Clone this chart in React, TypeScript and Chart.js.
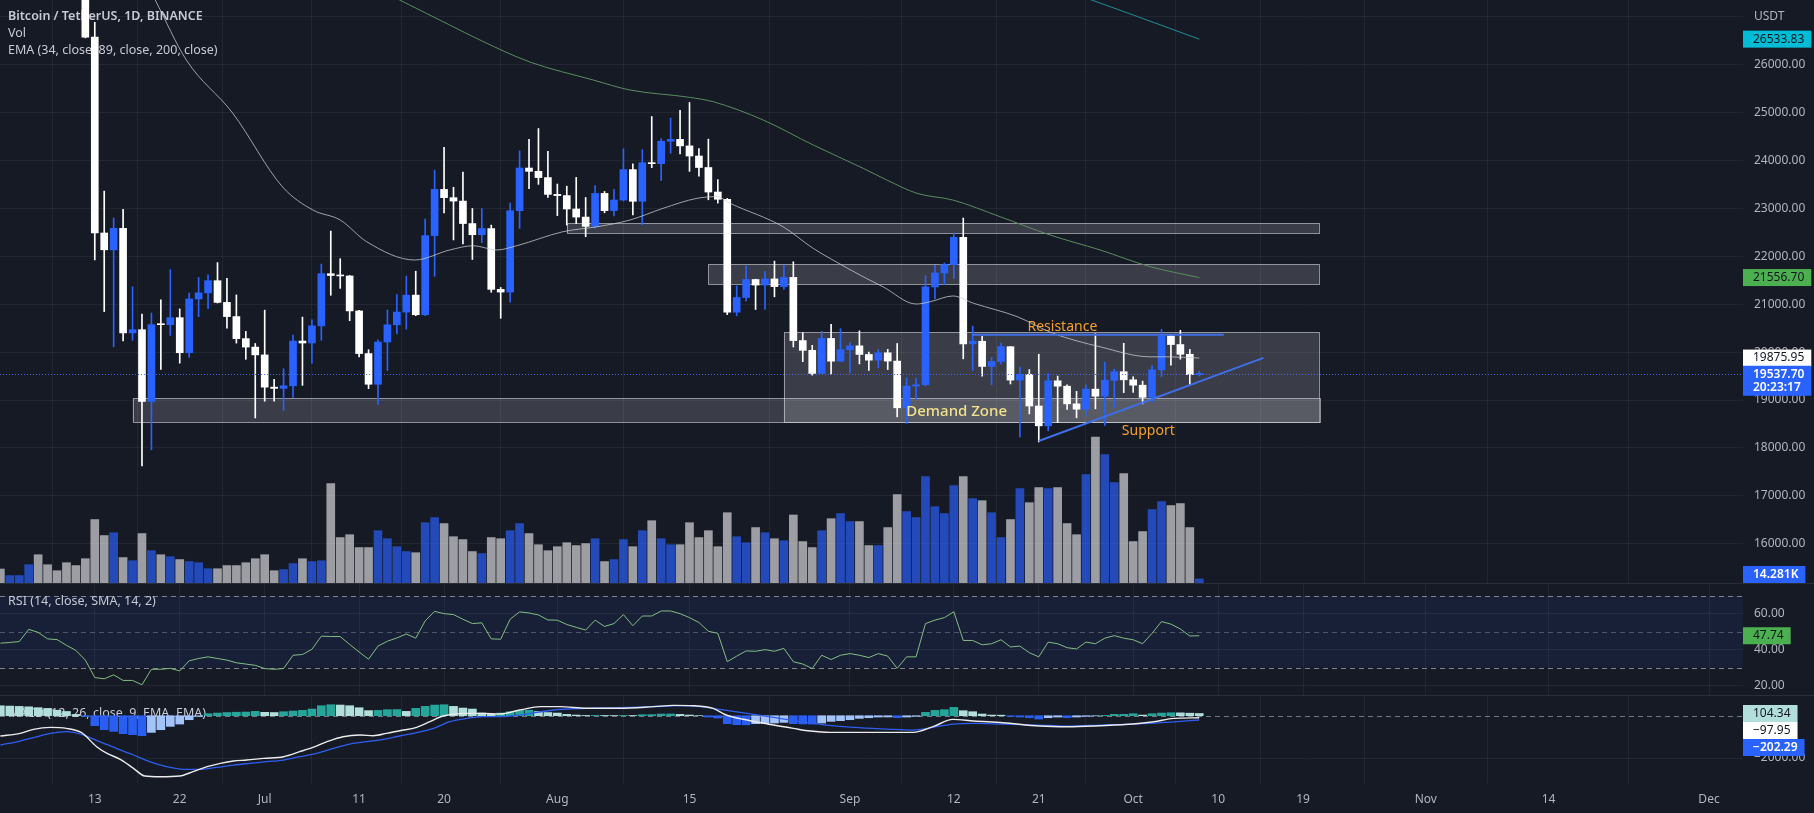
import React, { useEffect, useRef } from "react";
import { Chart, registerables } from "chart.js";

Chart.register(...registerables);

// ---------------- data (day index 0 = 13 Jun 2022) ----------------
const FIRST_DAY = -10; // 3 Jun 2022

const openPrices = [
  30468, 29700, 29865, 29920, 31373, 31126, 30205, 30110, 29092, 28424,
  26575, 22487, 22136, 22584, 20401, 20468, 18970, 20574, 20573, 20719,
  19987, 21110, 21237, 21491, 21038, 20742, 20281, 20105, 19942, 19269,
  19243, 19297, 20231, 20190, 20548, 21637, 21600, 21590, 20860, 19970,
  19329, 20212, 20570, 20836, 21190, 20780, 22432, 23397, 23224, 23153,
  22684, 22451, 22579, 21310, 21254, 22952, 23843, 23774, 23644, 23293,
  23268, 22988, 22819, 22625, 23313, 22954, 23175, 23810, 23149, 23954,
  23934, 24403, 24441, 24305, 24094, 23854, 23342, 23191, 20834, 21140,
  21516, 21400, 21528, 21368, 21560, 20241, 20037, 19555, 20285, 19811,
  20050, 20131, 19951, 19832, 19986, 19813, 18838, 19291, 19320, 21361,
  21652, 21826, 22396, 20173, 20227, 19701, 19803, 20113, 19416, 19537,
  18875, 18461, 19401, 19289, 18920, 18808, 19227, 19079, 19412, 19591,
  19422, 19310, 19056, 19629, 20337, 20158, 19955, 19531,
];
const highPrices = [
  30690, 29944, 30152, 31765, 31556, 31328, 30700, 30386, 29440, 28544,
  26886, 23362, 22800, 22983, 21365, 20792, 20815, 21090, 21723, 20902,
  21233, 21558, 21614, 21868, 21540, 21194, 20432, 20180, 20876, 19430,
  19653, 20354, 20731, 20675, 21838, 22527, 21950, 21600, 20875, 20050,
  20259, 20880, 21200, 21588, 21689, 22777, 23800, 24276, 23442, 23757,
  22998, 22996, 22651, 21350, 23111, 24199, 24442, 24668, 24194, 23509,
  23465, 23647, 23228, 23475, 23354, 23400, 24245, 23933, 24226, 24918,
  24456, 24888, 25047, 25212, 24247, 24446, 23600, 23208, 21382, 21800,
  21522, 21684, 21900, 21819, 21886, 20406, 20141, 20433, 20580, 20490,
  20198, 20444, 19999, 20055, 20057, 20180, 19464, 19458, 21597, 21810,
  21860, 22488, 22799, 20541, 20330, 19888, 20189, 20117, 19686, 19634,
  19956, 19550, 19500, 19316, 19180, 19315, 20385, 19790, 19645, 20185,
  19486, 19395, 19719, 20475, 20365, 20456, 20057, 19600,
];
const lowPrices = [
  29351, 29485, 29531, 29890, 29219, 29844, 29950, 28850, 28100, 26560,
  21925, 20846, 20111, 20232, 20246, 17622, 17960, 19637, 20348, 19770,
  19891, 20740, 20906, 21026, 20499, 20188, 19850, 18626, 18975, 18978,
  18781, 19055, 19305, 19770, 20245, 21187, 21330, 20655, 19900, 19238,
  18910, 19616, 20379, 20480, 20760, 20762, 21581, 22906, 22342, 22257,
  21934, 22284, 21250, 20706, 21042, 22582, 23414, 23502, 23227, 22850,
  22654, 22681, 22409, 22586, 22909, 22844, 23154, 22865, 22664, 23852,
  23583, 24150, 24140, 23773, 23671, 23180, 23111, 20783, 20761, 21069,
  20890, 20890, 21154, 21310, 20107, 19800, 19520, 19550, 19540, 19800,
  19565, 19754, 19617, 19673, 19636, 18649, 18510, 19012, 19291, 21111,
  21405, 21538, 19860, 19617, 19497, 19320, 19748, 19335, 18232, 18711,
  18125, 18356, 18531, 18805, 18629, 18680, 18816, 18471, 18843, 19155,
  19160, 18920, 18960, 19490, 19730, 19853, 19320, 19500,
];
const closePrices = [
  29700, 29865, 29920, 31373, 31126, 30205, 30110, 29092, 28424, 26575,
  22487, 22136, 22584, 20401, 20468, 18970, 20574, 20573, 20719, 19987,
  21110, 21237, 21491, 21038, 20742, 20281, 20105, 19942, 19269, 19243,
  19297, 20231, 20190, 20548, 21637, 21600, 21590, 20860, 19970, 19329,
  20212, 20570, 20836, 21190, 20780, 22432, 23397, 23224, 23153, 22684,
  22451, 22579, 21310, 21254, 22952, 23843, 23774, 23644, 23293, 23268,
  22988, 22819, 22625, 23313, 22954, 23175, 23810, 23149, 23954, 23934,
  24403, 24441, 24305, 24094, 23854, 23342, 23191, 20834, 21140, 21516,
  21400, 21528, 21368, 21560, 20241, 20037, 19555, 20285, 19811, 20050,
  20131, 19951, 19832, 19986, 19813, 18838, 19291, 19320, 21361, 21652,
  21826, 22396, 20173, 20227, 19701, 19803, 20113, 19416, 19537, 18875,
  18461, 19401, 19289, 18920, 18808, 19227, 19079, 19412, 19591, 19422,
  19310, 19056, 19629, 20337, 20158, 19955, 19531, 19537.7,
];
// volume in thousands of BTC
const volumeK = [
  49, 26, 26, 64, 99, 64, 43, 71, 61, 85,
  222, 166, 176, 89, 78, 173, 113, 99, 92, 82,
  75, 71, 50, 50, 61, 61, 71, 85, 99, 43,
  47, 68, 85, 75, 78, 348, 159, 169, 124, 124,
  183, 155, 127, 110, 106, 211, 229, 208, 162, 152,
  110, 103, 159, 155, 183, 208, 173, 134, 113, 127,
  141, 131, 138, 155, 75, 82, 152, 127, 183, 218,
  155, 134, 134, 211, 159, 183, 127, 246, 162, 141,
  194, 176, 155, 148, 238, 145, 124, 183, 225, 243,
  215, 215, 131, 131, 194, 309, 250, 229, 372, 267,
  243, 341, 372, 295, 288, 246, 159, 222, 330, 281,
  334, 330, 334, 208, 169, 379, 511, 449, 351, 383,
  145, 180, 257, 285, 271, 278, 194, 14.281,
];
const rsiValues = [
  43.6, 44.0, 44.5, 51.3, 49.6, 46.0, 45.6, 42.4, 39.6, 34.2,
  24.5, 23.8, 26.0, 22.9, 22.9, 20.5, 29.1, 29.1, 29.6, 28.2,
  33.8, 35.1, 36.0, 35.1, 34.2, 32.7, 32.0, 31.3, 29.5, 29.1,
  29.5, 36.9, 37.3, 40.2, 47.5, 47.3, 47.3, 42.9, 38.7, 34.7,
  42.0, 44.7, 46.5, 48.7, 46.4, 56.0, 61.3, 60.0, 59.5, 56.9,
  54.5, 54.9, 46.0, 45.8, 56.9, 61.0, 60.4, 59.3, 56.5, 56.4,
  54.0, 52.4, 50.9, 56.4, 52.9, 54.5, 59.5, 53.3, 58.7, 58.7,
  61.5, 61.5, 60.0, 57.8, 55.1, 50.2, 49.1, 33.3, 36.4, 39.3,
  39.1, 40.0, 39.1, 40.7, 33.3, 32.0, 29.5, 36.9, 34.5, 36.9,
  37.8, 36.9, 35.6, 37.8, 36.4, 29.6, 36.0, 36.0, 54.5, 56.4,
  57.8, 61.1, 45.1, 45.1, 42.7, 43.3, 45.5, 41.5, 42.0, 38.3,
  36.0, 44.2, 43.3, 41.1, 40.4, 44.2, 43.3, 46.4, 47.8, 46.4,
  45.5, 43.3, 49.1, 55.6, 54.2, 51.5, 47.6, 47.74,
];
const macdHist = [
  470, 455, 440, 420, 380, 345, 260, 200, 60, -40,
  -473, -662, -741, -850, -898, -945, -788, -662, -504, -394,
  -189, -31, 94, 126, 150, 165, 173, 205, 160, 150,
  189, 221, 252, 315, 473, 520, 505, 473, 378, 240,
  252, 284, 290, 205, 347, 441, 504, 520, 441, 362,
  315, 126, 63, 126, 189, 252, 260, 200, 150, 126,
  63, 31, 12, 15, 10, 8, 14, 10, 47, 50,
  79, 82, 63, 31, 3, -63, -110, -378, -425, -430,
  -378, -370, -347, -315, -378, -390, -395, -347, -268, -236,
  -189, -126, -95, -63, -60, -95, -63, -31, 158, 252,
  284, 394, 236, 189, 79, 31, 25, -31, -63, -95,
  -158, -95, -63, -95, -63, -31, -8, 15, 63, 65,
  94, 31, 94, 126, 140, 135, 120, 104.34,
];
const macdLine = [
  [-10, -960], [-7.9, -835], [-6.5, -646], [-4.7, -552], [-3, -599], [-1.4, -804],
  [0.2, -1466], [1.3, -1781], [2.7, -2064], [4.1, -2490], [5.3, -2852], [6.9, -2884],
  [9, -2852], [10.4, -2647], [11.9, -2411], [13.3, -2253], [14.7, -2143], [16.1, -2096],
  [17.9, -2017], [20, -1938], [21.7, -1702], [23.1, -1497], [24.6, -1229], [26.3, -993],
  [28.1, -914], [29.5, -946], [30.9, -835], [32.3, -709], [34.1, -552], [35.5, -284],
  [36.9, -16], [39.4, 110], [41.2, 110], [42.9, 79], [45, 268], [47.2, 427], [49.3, 427],
  [52.1, 349], [55.6, 349], [59.2, 427], [61.3, 490], [63.4, 474], [65.5, 349], [66.9, 32],
  [69.1, -205], [71.9, -441], [74, -599], [75.8, -725], [77.9, -788], [80.4, -788],
  [83.9, -788], [86.7, -788], [88.8, -520], [90.9, -173], [93.1, -252], [96.2, -331],
  [100.1, -488], [103, -520], [106.5, -473], [110, -394], [112.2, -284], [114.3, -126],
  [117, -97.95],
];
const signalLine = [
  [-10, -1386], [-7.9, -1197], [-6.5, -1040], [-4.7, -835], [-3, -756], [-1.2, -914],
  [0.5, -1229], [2.3, -1544], [4.1, -1859], [5.8, -2175], [7.6, -2411], [9.4, -2537],
  [11.1, -2537], [12.9, -2443], [14.7, -2332], [16.4, -2253], [18.2, -2175], [20, -2096],
  [21.7, -1938], [23.5, -1781], [25.3, -1544], [27, -1339], [28.8, -1229], [30.6, -1118],
  [32.3, -960], [34.1, -804], [35.9, -599], [37.6, -284], [39.4, -126], [41.2, -47],
  [43, -47], [45, 32], [48.6, 270], [52.1, 349], [55.6, 380], [59.2, 427], [62, 474],
  [64.1, 427], [66.2, 301], [69.1, 112], [71.9, -79], [74.7, -284], [77.5, -441],
  [80.4, -552], [83.9, -630], [86.7, -678], [88.8, -552], [90.9, -394], [93.1, -362],
  [96.2, -394], [100, -441], [103, -488], [106.5, -441], [110, -394], [114, -299],
  [117, -202.29],
];
const ema34 = [
  [4, 28250], [6.4, 27351], [9.7, 26098], [14.6, 24992], [19.9, 23447], [23.1, 22967],
  [26, 22758], [28.8, 22305], [33.9, 21923], [37.6, 22132], [40.1, 22221], [42.6, 22132],
  [44.7, 22221], [49.6, 22514], [53.2, 22617], [56.7, 22758], [60.2, 23002], [63.8, 23211],
  [65.9, 23246], [67.3, 23106], [72.9, 22618], [76.1, 22166], [78.2, 21921], [81.4, 21574],
  [83.5, 21364], [87, 21004], [88.5, 21052], [90.9, 21172], [93.1, 21019], [97.7, 20741],
  [101.5, 20393], [106.5, 20111], [111.8, 19902], [113.6, 19902], [117, 19875.95],
];
const ema89 = [
  [28, 27780], [32.3, 27351], [37.6, 26829], [40.8, 26516], [46.1, 26056], [52.8, 25681],
  [56.7, 25472], [63, 25319], [65.5, 25228], [70.8, 24846], [76.1, 24324], [81.4, 23837],
  [83.9, 23593], [87.1, 23315], [90.9, 23175], [95.9, 22827], [101.2, 22445],
  [106.5, 22132], [111.8, 21783], [117, 21556.7],
];
const ema200 = [[102, 27610], [105.6, 27351], [110, 27038], [117, 26533.83]];

const zoneStart = [50, 65, 73, 4];
const zoneEnd = [129.7, 129.7, 129.7, 129.7];
const zoneLow = [22480, 21416, 18534, 18534];
const zoneHigh = [22689, 21833, 20413, 19035];
const resistanceLine = [[92.9, 20360], [119.6, 20360]];
const supportLine = [[100, 18144], [123.8, 19880]];
const noteText = ["Resistance", "Demand Zone", "Support"];
const noteDay = [102.5, 91.3, 111.6];
const notePrice = [20518, 18764, 18359];

const timeTickDays = [0, 9, 18, 28, 37, 49, 63, 80, 91, 100, 110, 119, 128, 141, 154, 171];
const timeTickLabels = ["13", "22", "Jul", "11", "20", "Aug", "15", "Sep", "12", "21", "Oct", "10", "19", "Nov", "14", "Dec"];
const priceTicks = [16000, 17000, 18000, 19000, 20000, 21000, 22000, 23000, 24000, 25000, 26000, 27000];
const rsiTicks = [20, 40, 60];
const macdTicks = [-2000];
const clockText = "20:23:17";

// ---------------- layout / style ----------------
const W = 1814;
const AXIS_W = 71;
const MAIN_H = 583;
const RSI_H = 112;
const MACD_H = 118;
const TIME_AXIS_H = 30;
const X_MIN = -10.04;
const X_MAX = 174.6;
const PRICE_MIN = 15180;
const PRICE_MAX = 27351;
const VOL_MAX = 2040;
const RSI_MIN = 14.8;
const RSI_MAX = 77.05;
const MACD_MIN = -3182;
const MACD_MAX = 979;

const FONT = "'Noto Sans', 'Open Sans', sans-serif";
const BG = "#161a25";
const GRID = "rgba(255,255,255,0.055)";
const TEXT = "#b2b5be";
const LEGEND = "#c7cad2";
const UP = "#2962ff";
const DOWN = "#ffffff";
const VOL_UP = "rgba(41,98,255,0.68)";
const VOL_DOWN = "rgba(255,255,255,0.58)";

const days = openPrices.map((_, k) => FIRST_DAY + k);
const pts = (p: number[][]) => p.map(([x, y]) => ({ x, y }));
const last = <T,>(a: T[]) => a[a.length - 1];
const fmt2 = (v: number) => (v < 0 ? "\u2212" : "") + Math.abs(v).toFixed(2);

function xAxis(showLabels: boolean): any {
  return {
    type: "linear",
    min: X_MIN,
    max: X_MAX,
    offset: false,
    afterBuildTicks: (s: any) => {
      s.ticks = timeTickDays.map((v) => ({ value: v }));
    },
    grid: { color: GRID, drawTicks: false },
    border: { display: false },
    ticks: {
      display: showLabels,
      autoSkip: false,
      maxRotation: 0,
      minRotation: 0,
      padding: 9,
      color: TEXT,
      font: { size: 12, family: FONT },
      callback: (_v: any, i: number) => timeTickLabels[i],
    },
    afterFit: (s: any) => {
      s.height = showLabels ? TIME_AXIS_H : 0;
      s.paddingLeft = 0;
      s.paddingRight = 0;
    },
  };
}

function yAxis(min: number, max: number, ticks: number[], fmt: (v: number) => string): any {
  return {
    type: "linear",
    position: "right",
    min,
    max,
    afterBuildTicks: (s: any) => {
      s.ticks = ticks.map((v) => ({ value: v }));
    },
    grid: { color: GRID, drawTicks: false },
    border: { display: false },
    ticks: { color: TEXT, padding: 11, font: { size: 12, family: FONT }, callback: (v: any) => fmt(Number(v)) },
    afterFit: (s: any) => {
      s.width = AXIS_W;
      s.paddingTop = 0;
      s.paddingBottom = 0;
    },
  };
}

function axisBox(ctx: CanvasRenderingContext2D, left: number, cy: number, lines: string[], bg: string, fg: string, bold = false, bottomLimit?: number) {
  ctx.save();
  ctx.font = `${bold ? "600 " : ""}12px ${FONT}`;
  const tw = Math.max(...lines.map((t) => ctx.measureText(t).width));
  const w = tw + 17;
  const h = lines.length === 1 ? 17 : 30;
  let top = cy - 8.5;
  if (bottomLimit !== undefined && top + h > bottomLimit) top = bottomLimit - h;
  ctx.fillStyle = bg;
  ctx.fillRect(left, top, w, h);
  ctx.fillStyle = fg;
  ctx.textBaseline = "middle";
  ctx.textAlign = "left";
  lines.forEach((t, k) => ctx.fillText(t, left + 10, top + 8.5 + k * 13.3));
  ctx.restore();
  return top;
}

function separator(ctx: CanvasRenderingContext2D) {
  ctx.save();
  ctx.fillStyle = "#2a2e39";
  ctx.fillRect(0, 0, W, 1);
  ctx.restore();
}

const mainOverlay = {
  id: "mainOverlay",
  beforeDatasetsDraw(chart: any) {
    const { ctx, scales } = chart;
    const x = scales.x;
    const y = scales.y;
    ctx.save();
    // legend
    ctx.fillStyle = LEGEND;
    ctx.textBaseline = "middle";
    ctx.font = `600 12.5px ${FONT}`;
    ctx.fillText("Bitcoin / TetherUS, 1D, BINANCE", 8, 16);
    ctx.font = `12.5px ${FONT}`;
    ctx.fillText("Vol", 8, 33);
    ctx.fillText("EMA (34, close, 89, close, 200, close)", 8, 50);
    // zones
    zoneStart.forEach((s, k) => {
      const x1 = x.getPixelForValue(s);
      const x2 = x.getPixelForValue(zoneEnd[k]);
      const y1 = y.getPixelForValue(zoneHigh[k]);
      const y2 = y.getPixelForValue(zoneLow[k]);
      ctx.fillStyle = "rgba(255,255,255,0.155)";
      ctx.fillRect(x1, y1, x2 - x1, y2 - y1);
      ctx.strokeStyle = "rgba(215,217,225,0.6)";
      ctx.lineWidth = 1;
      ctx.strokeRect(Math.round(x1) + 0.5, Math.round(y1) + 0.5, Math.round(x2 - x1), Math.round(y2 - y1));
    });
    ctx.restore();
  },
  afterDatasetsDraw(chart: any) {
    const { ctx, scales, chartArea } = chart;
    const x = scales.x;
    const y = scales.y;
    ctx.save();
    // last price dotted line
    const py = Math.round(y.getPixelForValue(last(closePrices))) + 0.5;
    ctx.strokeStyle = "rgba(70,110,235,0.95)";
    ctx.setLineDash([1, 2]);
    ctx.lineWidth = 1;
    ctx.beginPath();
    ctx.moveTo(chartArea.left, py);
    ctx.lineTo(chartArea.right, py);
    ctx.stroke();
    ctx.setLineDash([]);
    // notes
    ctx.textAlign = "center";
    ctx.textBaseline = "middle";
    noteText.forEach((t, k) => {
      const demand = k === 1;
      ctx.font = demand ? `500 15px ${FONT}` : `14px ${FONT}`;
      ctx.fillStyle = demand ? "#f1e28e" : "#f7a02a";
      ctx.fillText(t, x.getPixelForValue(noteDay[k]), y.getPixelForValue(notePrice[k]));
    });
    ctx.restore();
  },
  afterDraw(chart: any) {
    const { ctx, scales, chartArea } = chart;
    const y = scales.y;
    const yv = scales.yVol;
    const L = chartArea.right;
    const e200 = last(ema200)[1];
    const e89 = last(ema89)[1];
    const e34 = last(ema34)[1];
    const c = last(closePrices);
    axisBox(ctx, L, y.getPixelForValue(e200), [fmt2(e200)], "#00bcd4", "#131722");
    axisBox(ctx, L, y.getPixelForValue(e89), [fmt2(e89)], "#4caf50", "#131722");
    axisBox(ctx, L, y.getPixelForValue(e34), [fmt2(e34)], "#ffffff", "#131722");
    axisBox(ctx, L, y.getPixelForValue(c), [fmt2(c), clockText], UP, "#ffffff", true);
    const v = last(volumeK);
    axisBox(ctx, L, yv.getPixelForValue(v), [v.toFixed(3) + "K"], UP, "#ffffff", true, chartArea.bottom);
  },
};

const rsiOverlay = {
  id: "rsiOverlay",
  beforeDraw(chart: any) {
    const { ctx, scales, chartArea } = chart;
    const y = scales.y;
    if (!y) return;
    ctx.save();
    const t = y.getPixelForValue(70);
    const b = y.getPixelForValue(30);
    ctx.fillStyle = "rgba(41,98,255,0.09)";
    ctx.fillRect(chartArea.left, t, chartArea.right - chartArea.left, b - t);
    ctx.restore();
  },
  beforeDatasetsDraw(chart: any) {
    const { ctx, scales, chartArea } = chart;
    const y = scales.y;
    ctx.save();
    [70, 50, 30].forEach((lv) => {
      const yy = Math.round(y.getPixelForValue(lv)) + 0.5;
      ctx.strokeStyle = lv === 50 ? "rgba(120,123,134,0.6)" : "rgba(140,143,154,0.9)";
      ctx.setLineDash([5, 4]);
      ctx.lineWidth = 1;
      ctx.beginPath();
      ctx.moveTo(chartArea.left, yy);
      ctx.lineTo(chartArea.right, yy);
      ctx.stroke();
    });
    ctx.setLineDash([]);
    ctx.fillStyle = LEGEND;
    ctx.font = `12.5px ${FONT}`;
    ctx.textBaseline = "middle";
    ctx.fillText("RSI (14, close, SMA, 14, 2)", 8, 18);
    ctx.restore();
  },
  afterDraw(chart: any) {
    const { ctx, scales, chartArea } = chart;
    const r = last(rsiValues);
    axisBox(ctx, chartArea.right, scales.y.getPixelForValue(r), [r.toFixed(2)], "#4caf50", "#131722");
    separator(ctx);
  },
};

const macdOverlay = {
  id: "macdOverlay",
  beforeDatasetsDraw(chart: any) {
    const { ctx, scales, chartArea } = chart;
    const y = scales.y;
    ctx.save();
    const zy = Math.round(y.getPixelForValue(0)) + 0.5;
    ctx.strokeStyle = "rgba(140,143,154,0.8)";
    ctx.setLineDash([5, 4]);
    ctx.lineWidth = 1;
    ctx.beginPath();
    ctx.moveTo(chartArea.left, zy);
    ctx.lineTo(chartArea.right, zy);
    ctx.stroke();
    ctx.setLineDash([]);
    ctx.fillStyle = LEGEND;
    ctx.font = `12.5px ${FONT}`;
    ctx.textBaseline = "middle";
    ctx.fillText("MACD (12, 26, close, 9, EMA, EMA)", 8, 18);
    ctx.restore();
  },
  afterDraw(chart: any) {
    const { ctx, scales, chartArea } = chart;
    const y = scales.y;
    const h = last(macdHist);
    const m = last(macdLine)[1];
    const s = last(signalLine)[1];
    const t1 = axisBox(ctx, chartArea.right, y.getPixelForValue(h), [fmt2(h)], "#b2dfdb", "#131722");
    axisBox(ctx, chartArea.right, t1 + 17 + 8.5, [fmt2(m)], "#ffffff", "#131722");
    axisBox(ctx, chartArea.right, t1 + 34 + 8.5, [fmt2(s)], UP, "#ffffff", true);
    separator(ctx);
  },
};

const baseOptions = () => ({
  responsive: false,
  animation: false as const,
  devicePixelRatio: 1,
  events: [] as any[],
  layout: { padding: 0 },
  plugins: { legend: { display: false }, tooltip: { enabled: false } },
});

function mainConfig(): any {
  const candleColors = days.map((_, k) => (closePrices[k] >= openPrices[k] ? UP : DOWN));
  const volColors = days.map((_, k) => (closePrices[k] >= openPrices[k] ? VOL_UP : VOL_DOWN));
  const line = (data: number[][], color: string, width: number, order: number) => ({
    type: "line",
    data: pts(data),
    borderColor: color,
    borderWidth: width,
    pointRadius: 0,
    cubicInterpolationMode: "monotone",
    order,
  });
  return {
    type: "bar",
    data: {
      datasets: [
        { label: "EMA 200", ...line(ema200, "#1f8f96", 1, 1) },
        { label: "EMA 89", ...line(ema89, "#5e8a63", 1, 1) },
        { label: "EMA 34", ...line(ema34, "rgba(205,207,212,0.75)", 1, 1) },
        { label: "Resistance", type: "line", data: pts(resistanceLine), borderColor: "#3f6ee8", borderWidth: 2, pointRadius: 0, order: 0 },
        { label: "Support", type: "line", data: pts(supportLine), borderColor: "#3f6ee8", borderWidth: 2, pointRadius: 0, order: 0 },
        {
          label: "Body",
          type: "bar",
          data: days.map((d, k) => ({ x: d, y: [openPrices[k], closePrices[k]] })),
          backgroundColor: candleColors,
          barThickness: 7,
          minBarLength: 1,
          grouped: false,
          borderWidth: 0,
          order: 2,
          clip: 0,
        },
        {
          label: "Wick",
          type: "bar",
          data: days.map((d, k) => ({ x: d, y: [lowPrices[k], highPrices[k]] })),
          backgroundColor: candleColors,
          barThickness: 1,
          grouped: false,
          borderWidth: 0,
          order: 3,
          clip: 0,
        },
        {
          label: "Volume",
          type: "bar",
          yAxisID: "yVol",
          data: days.map((d, k) => ({ x: d, y: volumeK[k] })),
          backgroundColor: volColors,
          barThickness: 8,
          grouped: false,
          borderWidth: 0,
          order: 5,
          clip: 0,
        },
      ],
    },
    options: {
      ...baseOptions(),
      scales: {
        x: xAxis(false),
        y: yAxis(PRICE_MIN, PRICE_MAX, priceTicks, (v) => (v === 27000 ? "USDT" : v.toFixed(2))),
        yVol: { type: "linear", display: false, min: 0, max: VOL_MAX },
      },
    },
    plugins: [mainOverlay],
  };
}

function rsiConfig(): any {
  return {
    type: "line",
    data: {
      datasets: [
        {
          label: "RSI",
          data: days.map((d, k) => ({ x: d, y: rsiValues[k] })),
          borderColor: "#86bc83",
          borderWidth: 1,
          pointRadius: 0,
          tension: 0,
        },
      ],
    },
    options: {
      ...baseOptions(),
      scales: { x: xAxis(false), y: yAxis(RSI_MIN, RSI_MAX, rsiTicks, (v) => v.toFixed(2)) },
    },
    plugins: [rsiOverlay],
  };
}

function macdConfig(): any {
  const histColors = macdHist.map((v, k) => {
    const prev = k > 0 ? macdHist[k - 1] : v;
    if (v >= 0) return v > prev ? "#26a69a" : "#b2dfdb";
    return v < prev ? "#2a5ef0" : "#a3c3fb";
  });
  return {
    type: "bar",
    data: {
      datasets: [
        { label: "MACD", type: "line", data: pts(macdLine), borderColor: "#ececec", borderWidth: 1.4, pointRadius: 0, cubicInterpolationMode: "monotone", order: 0 },
        { label: "Signal", type: "line", data: pts(signalLine), borderColor: "#2f5ef0", borderWidth: 1.3, pointRadius: 0, cubicInterpolationMode: "monotone", order: 1 },
        {
          label: "Histogram",
          type: "bar",
          data: days.map((d, k) => ({ x: d, y: macdHist[k] })),
          backgroundColor: histColors,
          barThickness: 8,
          grouped: false,
          borderWidth: 0,
          order: 2,
        },
      ],
    },
    options: {
      ...baseOptions(),
      scales: { x: xAxis(true), y: yAxis(MACD_MIN, MACD_MAX, macdTicks, (v) => fmt2(v)) },
    },
    plugins: [macdOverlay],
  };
}

export default function App() {
  const mainRef = useRef<HTMLCanvasElement>(null);
  const rsiRef = useRef<HTMLCanvasElement>(null);
  const macdRef = useRef<HTMLCanvasElement>(null);

  useEffect(() => {
    Chart.defaults.font.family = FONT;
    Chart.defaults.color = TEXT;
    const charts: Chart[] = [];
    if (mainRef.current) charts.push(new Chart(mainRef.current, mainConfig()));
    if (rsiRef.current) charts.push(new Chart(rsiRef.current, rsiConfig()));
    if (macdRef.current) charts.push(new Chart(macdRef.current, macdConfig()));
    return () => charts.forEach((c) => c.destroy());
  }, []);

  return (
    <div style={{ position: "fixed", left: 0, top: 0, width: W, height: MAIN_H + RSI_H + MACD_H, background: BG, overflow: "hidden" }}>
      <canvas ref={mainRef} width={W} height={MAIN_H} style={{ position: "absolute", left: 0, top: 0, width: W, height: MAIN_H }} />
      <canvas ref={rsiRef} width={W} height={RSI_H} style={{ position: "absolute", left: 0, top: MAIN_H, width: W, height: RSI_H }} />
      <canvas ref={macdRef} width={W} height={MACD_H} style={{ position: "absolute", left: 0, top: MAIN_H + RSI_H, width: W, height: MACD_H }} />
    </div>
  );
}
